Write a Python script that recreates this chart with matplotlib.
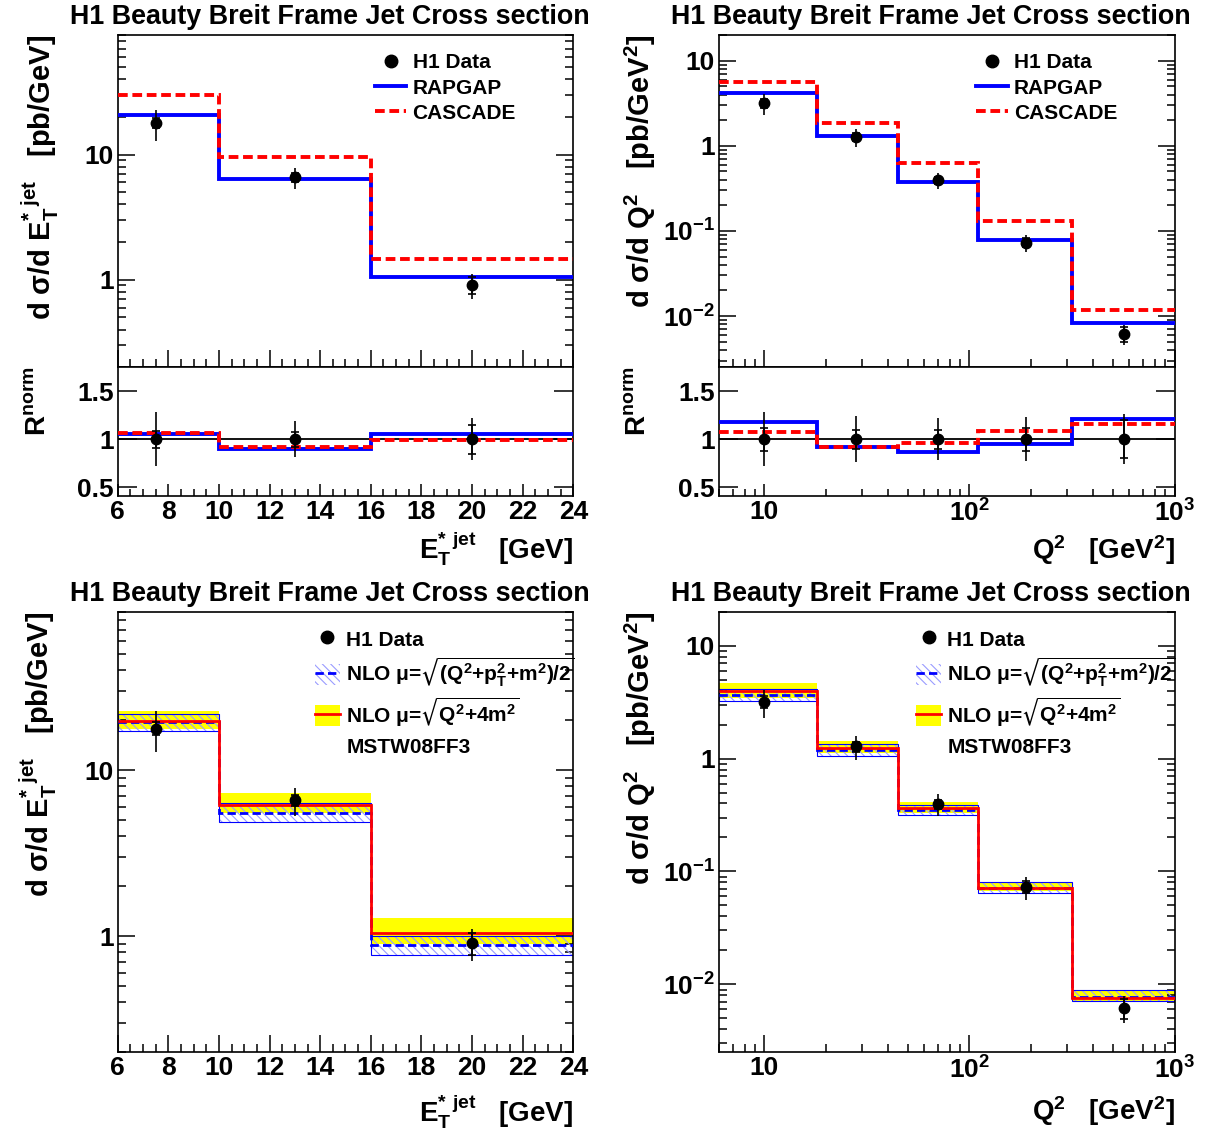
import matplotlib
matplotlib.use('Agg')
import matplotlib.pyplot as plt
from matplotlib.lines import Line2D
from matplotlib.patches import Patch
from matplotlib.ticker import LogLocator, NullFormatter, FuncFormatter, MultipleLocator, FixedLocator
import numpy as np

plt.rcParams['font.family'] = ['Liberation Sans', 'DejaVu Sans']
plt.rcParams['font.weight'] = 'bold'
plt.rcParams['mathtext.default'] = 'regular'
plt.rcParams['hatch.linewidth'] = 0.8

# E_T*jet binning and cross sections [pb/GeV]
et_edges = [6, 10, 16, 24]
et_x = [7.5, 13, 20]
et_data = [17.8, 6.58, 0.907]
et_stat = [0.09, 0.08, 0.15]      # relative errors
et_tot = [0.28, 0.19, 0.22]
et_rapgap = [20.5, 6.43, 1.06]
et_cascade = [30.0, 9.6, 1.47]
et_rapgap_r = [1.055, 0.897, 1.055]
et_cascade_r = [1.06, 0.914, 0.99]
et_nlo1 = [19.4, 5.55, 0.885]       # mu = sqrt((Q2+pT2+m2)/2)
et_nlo1_lo = [17.3, 4.88, 0.77]
et_nlo1_hi = [21.8, 6.36, 1.00]
et_nlo2 = [19.9, 6.18, 1.04]        # mu = sqrt(Q2+4m2)
et_nlo2_lo = [17.6, 5.5, 0.90]
et_nlo2_hi = [22.8, 7.33, 1.28]

# Q2 binning and cross sections [pb/GeV2]
q2_edges = [6, 18, 45, 110, 316, 1000]
q2_x = [10, 28, 70, 188, 566]
q2_data = [3.18, 1.28, 0.394, 0.073, 0.0062]
q2_stat = [0.12, 0.10, 0.10, 0.12, 0.20]
q2_tot = [0.28, 0.24, 0.22, 0.23, 0.26]
q2_rapgap = [4.17, 1.29, 0.377, 0.078, 0.0083]
q2_cascade = [5.6, 1.87, 0.62, 0.131, 0.0117]
q2_rapgap_r = [1.176, 0.914, 0.862, 0.948, 1.207]
q2_cascade_r = [1.072, 0.917, 0.959, 1.086, 1.159]
q2_nlo1 = [3.66, 1.18, 0.351, 0.0718, 0.00777]
q2_nlo1_lo = [3.22, 1.06, 0.315, 0.0644, 0.00713]
q2_nlo1_hi = [4.11, 1.35, 0.391, 0.080, 0.00897]
q2_nlo2 = [3.96, 1.25, 0.364, 0.0718, 0.00755]
q2_nlo2_lo = [3.43, 1.11, 0.327, 0.0667, 0.00713]
q2_nlo2_hi = [4.69, 1.43, 0.411, 0.080, 0.0087]

title = 'H1 Beauty Breit Frame Jet Cross section'
et_ylabel = 'd σ/d $E_T^{*\\ jet}$   [pb/GeV]'
q2_ylabel = 'd σ/d $Q^2$   [pb/GeV$^2$]'
et_xlabel = '$E_T^{*\\ jet}$   [GeV]'
q2_xlabel = '$Q^2$   [GeV$^2$]'
nlo1_label = 'NLO μ=$\\sqrt{(Q^2{+}p_T^2{+}m^2)/2}$'
nlo2_label = 'NLO μ=$\\sqrt{Q^2{+}4m^2}$'

BLUE = '#0000ff'
RED = '#ff0000'
YELLOW = '#ffff00'
HATCH = '#9a9cff'

W, H = 1205, 1135
fig = plt.figure(figsize=(W / 100, H / 100), dpi=100)


def rect(x0, y0, x1, y1):
    return [x0 / W, 1 - y1 / H, (x1 - x0) / W, (y1 - y0) / H]


def logfmt(v, pos):
    e = int(round(np.log10(v)))
    if e == 0:
        return '1'
    if e == 1:
        return '10'
    return '$10^{%d}$' % e


def style(ax, major=12, minor=6):
    ax.tick_params(which='both', direction='in', top=False, right=True,
                   labelsize=19, width=1.1, pad=3)
    ax.tick_params(which='major', length=major)
    ax.tick_params(which='minor', length=minor)
    for s in ax.spines.values():
        s.set_linewidth(1.2)


def log_y(ax):
    ax.set_yscale('log')
    ax.yaxis.set_major_locator(LogLocator(base=10, numticks=12))
    ax.yaxis.set_minor_locator(LogLocator(base=10, subs=np.arange(2, 10), numticks=12))
    ax.yaxis.set_major_formatter(FuncFormatter(logfmt))
    ax.yaxis.set_minor_formatter(NullFormatter())


def et_x_axis(ax, labels):
    ax.set_xlim(6, 24)
    ax.xaxis.set_major_locator(MultipleLocator(2))
    ax.xaxis.set_minor_locator(MultipleLocator(0.5))
    if not labels:
        ax.tick_params(axis='x', labelbottom=False)


def q2_x_axis(ax, labels):
    ax.set_xscale('log')
    ax.set_xlim(6, 1000)
    ax.xaxis.set_major_locator(LogLocator(base=10, numticks=12))
    ax.xaxis.set_minor_locator(LogLocator(base=10, subs=np.arange(2, 10), numticks=12))
    ax.xaxis.set_major_formatter(FuncFormatter(logfmt))
    ax.xaxis.set_minor_formatter(NullFormatter())
    if not labels:
        ax.tick_params(axis='x', labelbottom=False)


def draw_data(ax, x, y, stat, tot):
    y = np.array(y)
    ax.errorbar(x, y, yerr=y * np.array(tot), fmt='o', color='k', ms=7.5,
                elinewidth=1.2, capsize=0, zorder=10)
    ax.errorbar(x, y, yerr=y * np.array(stat), fmt='none', ecolor='k',
                elinewidth=1.2, capsize=3, capthick=1.2, zorder=10)


def draw_ratio_data(ax, x, stat, tot):
    ones = np.ones(len(x))
    ax.errorbar(x, ones, yerr=np.array(tot), fmt='o', color='k', ms=7.5,
                elinewidth=1.2, capsize=0, zorder=10)
    ax.errorbar(x, ones, yerr=np.array(stat), fmt='none', ecolor='k',
                elinewidth=1.2, capsize=3, capthick=1.2, zorder=10)


def mc_legend(ax):
    handles = [Line2D([], [], marker='o', color='k', ms=9, ls='none'),
               Line2D([], [], color=BLUE, lw=2.8),
               Line2D([], [], color=RED, lw=2.8, ls=(0, (2.5, 1.2)))]
    ax.legend(handles, ['H1 Data', 'RAPGAP', 'CASCADE'], loc='upper left',
              bbox_to_anchor=(0.565, 0.945), frameon=False, fontsize=15,
              handlelength=1.5, handletextpad=0.3, labelspacing=0.3,
              borderpad=0, borderaxespad=0)


def nlo_legend(ax):
    h_data = Line2D([], [], marker='o', color='k', ms=9, ls='none')
    h1 = (Patch(facecolor='white', edgecolor=HATCH, hatch='\\\\\\\\', lw=0),
          Line2D([], [], color=BLUE, lw=2, ls=(0, (3, 1.5))))
    h2 = (Patch(facecolor=YELLOW, edgecolor='none'),
          Line2D([], [], color=RED, lw=2))
    h3 = Patch(visible=False)
    ax.legend([h_data, h1, h2, h3], ['H1 Data', nlo1_label, nlo2_label, 'MSTW08FF3'],
              loc='upper left', bbox_to_anchor=(0.433, 0.963), frameon=False,
              fontsize=15, handlelength=1.2, handleheight=1.2,
              handletextpad=0.3, labelspacing=0.3, borderpad=0, borderaxespad=0)


def main_mc(ax, edges, rapgap, cascade):
    ax.stairs(rapgap, edges, baseline=None, color=BLUE, lw=2.8, zorder=3)
    ax.stairs(cascade, edges, baseline=None, color=RED, lw=2.8,
              ls=(0, (2.5, 1.2)), zorder=4)


def ratio_panel(ax, edges, x, rap_r, cas_r, stat, tot):
    ax.axhline(1, color='k', lw=1.3, zorder=2)
    ax.stairs(rap_r, edges, baseline=None, color=BLUE, lw=2.8, zorder=3)
    ax.stairs(cas_r, edges, baseline=None, color=RED, lw=2.8,
              ls=(0, (2.5, 1.2)), zorder=4)
    draw_ratio_data(ax, x, stat, tot)
    ax.set_ylim(0.41, 1.75)
    ax.yaxis.set_major_locator(FixedLocator([0.5, 1.0, 1.5]))
    ax.yaxis.set_major_formatter(FuncFormatter(lambda v, p: '1' if v == 1 else '%g' % v))
    ax.yaxis.set_minor_locator(FixedLocator([]))


def nlo_panel(ax, edges, nlo1, lo1, hi1, nlo2, lo2, hi2):
    edges = np.array(edges, dtype=float)
    left = edges[:-1]
    width = np.diff(edges)
    lo2 = np.array(lo2)
    lo1 = np.array(lo1)
    ax.bar(left, np.array(hi2) - lo2, width=width, bottom=lo2, align='edge',
           color=YELLOW, lw=0, zorder=1)
    ax.bar(left, np.array(hi1) - lo1, width=width, bottom=lo1, align='edge',
           facecolor='none', edgecolor=HATCH, hatch='\\\\\\\\', lw=0, zorder=2)
    ax.bar(left, np.array(hi1) - lo1, width=width, bottom=lo1, align='edge',
           facecolor='none', edgecolor=BLUE, lw=0.8, zorder=2)
    ax.stairs(nlo1, edges, baseline=None, color=BLUE, lw=2,
              ls=(0, (3, 1.5)), zorder=4)
    ax.stairs(nlo2, edges, baseline=None, color=RED, lw=2, zorder=5)


# top left: E_T with MC
ax = fig.add_axes(rect(117.7, 35, 573.3, 367.3))
main_mc(ax, et_edges, et_rapgap, et_cascade)
draw_data(ax, et_x, et_data, et_stat, et_tot)
log_y(ax)
ax.set_ylim(0.2, 90)
et_x_axis(ax, False)
style(ax)
mc_legend(ax)

ax = fig.add_axes(rect(117.7, 367.3, 573.3, 495.7))
ratio_panel(ax, et_edges, et_x, et_rapgap_r, et_cascade_r, et_stat, et_tot)
et_x_axis(ax, True)
style(ax, major=14, minor=7)
ax.tick_params(axis='x', which='major', length=9)
ax.tick_params(axis='x', which='minor', length=5)

# top right: Q2 with MC
ax = fig.add_axes(rect(719, 35, 1174.5, 367.3))
main_mc(ax, q2_edges, q2_rapgap, q2_cascade)
draw_data(ax, q2_x, q2_data, q2_stat, q2_tot)
log_y(ax)
ax.set_ylim(0.0025, 20)
q2_x_axis(ax, False)
style(ax)
mc_legend(ax)

ax = fig.add_axes(rect(719, 367.3, 1174.5, 495.7))
ratio_panel(ax, q2_edges, q2_x, q2_rapgap_r, q2_cascade_r, q2_stat, q2_tot)
q2_x_axis(ax, True)
style(ax, major=14, minor=7)
ax.tick_params(axis='x', which='major', length=9)
ax.tick_params(axis='x', which='minor', length=5)

# bottom left: E_T with NLO
ax = fig.add_axes(rect(117.7, 611.7, 573.3, 1052.3))
nlo_panel(ax, et_edges, et_nlo1, et_nlo1_lo, et_nlo1_hi, et_nlo2, et_nlo2_lo, et_nlo2_hi)
draw_data(ax, et_x, et_data, et_stat, et_tot)
log_y(ax)
ax.set_ylim(0.2, 90)
et_x_axis(ax, True)
style(ax)
nlo_legend(ax)

# bottom right: Q2 with NLO
ax = fig.add_axes(rect(719, 611.7, 1174.5, 1052.3))
nlo_panel(ax, q2_edges, q2_nlo1, q2_nlo1_lo, q2_nlo1_hi, q2_nlo2, q2_nlo2_lo, q2_nlo2_hi)
draw_data(ax, q2_x, q2_data, q2_stat, q2_tot)
log_y(ax)
ax.set_ylim(0.0025, 20)
q2_x_axis(ax, True)
style(ax)
nlo_legend(ax)

# titles and axis labels
for tx, ty in [(330, 17), (931, 17), (330, 594), (931, 594)]:
    fig.text(tx / W, 1 - ty / H, title, ha='center', va='center', fontsize=19.4)

fig.text(40 / W, 1 - 35 / H, et_ylabel, rotation=90, ha='center', va='top', fontsize=21)
fig.text(640 / W, 1 - 35 / H, q2_ylabel, rotation=90, ha='center', va='top', fontsize=21)
fig.text(38 / W, 1 - 612 / H, et_ylabel, rotation=90, ha='center', va='top', fontsize=21)
fig.text(640 / W, 1 - 612 / H, q2_ylabel, rotation=90, ha='center', va='top', fontsize=21)
fig.text(38 / W, 1 - 366 / H, '$R^{norm}$', rotation=90, ha='center', va='top', fontsize=20)
fig.text(638 / W, 1 - 366 / H, '$R^{norm}$', rotation=90, ha='center', va='top', fontsize=20)

fig.text(573.3 / W, 1 - 549 / H, et_xlabel, ha='right', va='center', fontsize=20)
fig.text(1174.5 / W, 1 - 550 / H, q2_xlabel, ha='right', va='center', fontsize=20)
fig.text(573.3 / W, 1 - 1112 / H, et_xlabel, ha='right', va='center', fontsize=20)
fig.text(1174.5 / W, 1 - 1111 / H, q2_xlabel, ha='right', va='center', fontsize=20)

fig.savefig('out.png', dpi=100)
